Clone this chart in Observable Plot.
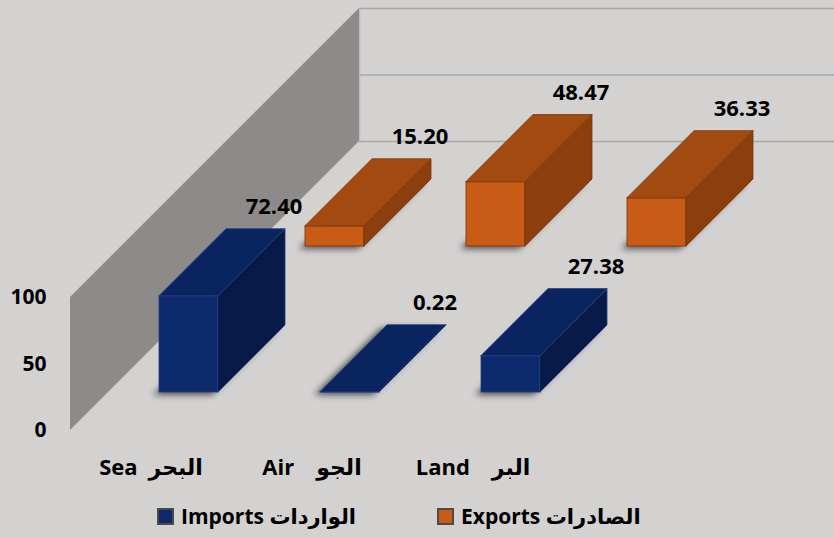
<!DOCTYPE html>
<html>
<head>
<meta charset="utf-8">
<script src="https://cdn.jsdelivr.net/npm/d3@7"></script>
<script src="https://cdn.jsdelivr.net/npm/@observablehq/plot@0.6"></script>
<style>
  html, body { margin: 0; padding: 0; }
  body { width: 834px; height: 538px; overflow: hidden; background: #d4d1d1; position: relative;
         font-family: "Open Sans", "DejaVu Sans", sans-serif; }
  #chart svg { display: block; overflow: hidden; background: transparent; }
  .legend-item { position: absolute; top: 502px; display: flex; align-items: center; gap: 7px;
                 font-size: 21px; font-weight: 700; color: #000; white-space: nowrap; }
  .swatch { width: 13px; height: 13px; border: 2px solid #4a4a4a; }
</style>
</head>
<body>
<div id="chart"></div>
<div id="legend"></div>
<script>
// ---- data ----
const categories = ["Sea", "Air", "Land"];
const categoryLabels = ["Sea\u2002البحر", "Air\u2003الجو", "Land\u2003البر"];
const seriesNames = ["Imports", "Exports"];
const seriesLabels = ["Imports الواردات", "Exports الصادرات"];
const importsValues = [72.40, 0.22, 27.38];
const exportsValues = [15.20, 48.47, 36.33];
const yTicks = [0, 50, 100];

// ---- styling / geometry (oblique 3D projection) ----
const KX = 1 / 161;        // x units per pixel of depth / width
const KY = 100 / 133;      // y units per pixel of depth
const HW = 29.5 * KX;      // bar half width
const BAR_DEPTH = 67;
const ROW_START = {Imports: 38, Exports: 184};
const WALL = 289;
const colors = {
  Imports: {front: "#0d2b6c", top: "#0a2460", side: "#071a4a", stroke: "#243e7c", legend: "#0d2b6c"},
  Exports: {front: "#c85b16", top: "#a34a10", side: "#8c3f0d", stroke: "#7a360b", legend: "#c85b16"}
};
const font = {fontFamily: "'Open Sans', 'DejaVu Sans', sans-serif", fontWeight: "bold", fontSize: 22, fill: "#000"};

function barFaces(name, values) {
  const t0 = ROW_START[name], t1 = t0 + BAR_DEPTH;
  const front = [], side = [], top = [], shadow = [], labels = [];
  values.forEach((v, i) => {
    const id = name + i;
    const y0a = t0 * KY, y0b = t1 * KY;
    const xa = i + t0 * KX, xb = i + t1 * KX;
    front.push({x1: xa - HW, x2: xa + HW, y1: y0a, y2: y0a + v});
    side.push({id, x: xa + HW, y1: y0a, y2: y0a + v});
    side.push({id, x: xb + HW, y1: y0b, y2: y0b + v});
    top.push({id, y: y0a + v, x1: xa - HW, x2: xa + HW});
    top.push({id, y: y0b + v, x1: xb - HW, x2: xb + HW});
    shadow.push({id, y: y0a, x1: xa - HW, x2: xa + HW});
    shadow.push({id, y: y0b, x1: xb - HW, x2: xb + HW});
    labels.push({x: xb, y: y0b + v, text: v.toFixed(2)});
  });
  const c = colors[name];
  return [
    Plot.areaX(shadow, {y: "y", x1: "x1", x2: "x2", z: "id", fill: "#2a2a2a", fillOpacity: 0.75, dx: -6, dy: 3, imageFilter: "blur(3px)"}),
    Plot.rect(front, {x1: "x1", x2: "x2", y1: "y1", y2: "y2", fill: c.front, stroke: c.stroke, strokeWidth: 0.8}),
    Plot.areaY(side, {x: "x", y1: "y1", y2: "y2", z: "id", fill: c.side, stroke: c.stroke, strokeWidth: 0.8}),
    Plot.areaX(top, {y: "y", x1: "x1", x2: "x2", z: "id", fill: c.top, stroke: c.stroke, strokeWidth: 0.8}),
    Plot.text(labels, {x: "x", y: "y", text: "text", dx: 18, dy: -22, ...font})
  ];
}

const wallX = -0.5 + WALL * KX, wallY = WALL * KY;

const chart = Plot.plot({
  width: 834,
  height: 490,
  margin: 0,
  style: {background: "transparent", overflow: "hidden"},
  x: {type: "linear", domain: [-0.5, 2.5], range: [70, 553], axis: null},
  y: {type: "linear", domain: [0, 100], range: [430, 297], axis: null},
  marks: [
    // back wall gridlines
    Plot.ruleY(yTicks, {y: d => d + wallY, x1: wallX, x2: 6, stroke: "#aaa8a8", strokeWidth: 1.6}),
    Plot.ruleX([wallX], {y1: wallY, y2: 100 + wallY, stroke: "#bdbbbb", strokeWidth: 1.5}),
    // left side wall
    Plot.areaY([{x: -0.5, y1: 0, y2: 100}, {x: wallX, y1: wallY, y2: 100 + wallY}],
      {x: "x", y1: "y1", y2: "y2", fill: "#8d8a8a"}),
    // bars: back row first
    ...barFaces("Exports", exportsValues),
    ...barFaces("Imports", importsValues),
    // y axis labels
    Plot.text(yTicks, {x: -0.5, y: d => d, text: d => String(d), textAnchor: "end", dx: -24, ...font, fontSize: 21}),
    // category labels
    Plot.text(categories, {x: (d, i) => i, y: 0, text: (d, i) => categoryLabels[i], dy: 37, ...font})
  ]
});
document.getElementById("chart").appendChild(chart);

// legend
const legend = document.getElementById("legend");
const legendLeft = [157, 437];
seriesNames.forEach((s, i) => {
  const item = document.createElement("div");
  item.className = "legend-item";
  item.style.left = legendLeft[i] + "px";
  const sw = document.createElement("div");
  sw.className = "swatch";
  sw.style.background = colors[s].legend;
  const tx = document.createElement("span");
  tx.textContent = seriesLabels[i];
  item.appendChild(sw);
  item.appendChild(tx);
  legend.appendChild(item);
});
</script>
</body>
</html>
